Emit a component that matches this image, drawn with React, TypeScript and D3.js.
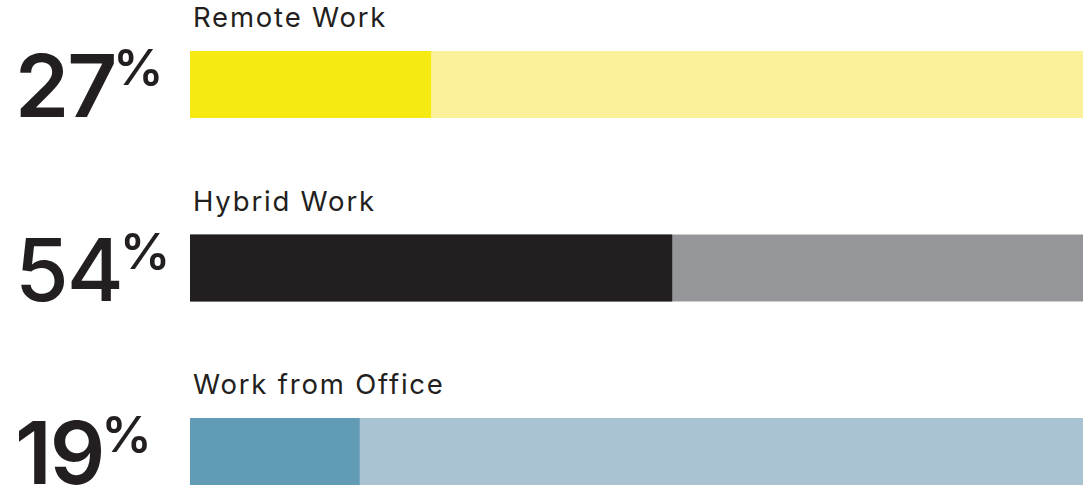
import React from "react";
import * as d3 from "d3";

const categories = ["Remote Work", "Hybrid Work", "Work from Office"];
const values = [27, 54, 19];
const fillColors = ["#F7EA12", "#231F20", "#629BB6"];
const trackColors = ["#FBF19A", "#959699", "#AAC3D3"];
const numberWeights = [600, 500, 600];

const W = 1083;
const H = 487;

export default function App() {
  const x = d3.scaleLinear().domain([0, 100]).range([190, 1083]);
  const y = d3.scaleBand<string>().domain(categories).range([51, 51 + 183.5 * 3]).paddingInner(0).paddingOuter(0);
  const barH = 67;
  const font = "Inter, 'Noto Sans', sans-serif";
  return (
    <svg width={W} height={H} style={{ position: "absolute", left: 0, top: 0, display: "block" }}>
      <rect width={W} height={H} fill="#fff" />
      {categories.map((c, i) => {
        const y0 = y(c)!;
        return (
          <g key={c}>
            <text x={193} y={y0 - 24} fontFamily={font} fontSize={27.5} fill="#231F20" fontWeight={400} letterSpacing={1.8}>
              {c}
            </text>
            <rect x={x(0)} y={y0} width={x(100) - x(0)} height={barH} fill={trackColors[i]} />
            <rect x={x(0)} y={y0} width={x(values[i]) - x(0)} height={barH} fill={fillColors[i]} />
            <text x={15} y={y0 + 66} fontFamily={font} fontSize={87} fontWeight={numberWeights[i]} fill="#231F20" letterSpacing={-2}>
              {values[i]}
              <tspan fontSize={50} dy={-32} dx={-2} letterSpacing={0} fontWeight={600}>%</tspan>
            </text>
          </g>
        );
      })}
    </svg>
  );
}
